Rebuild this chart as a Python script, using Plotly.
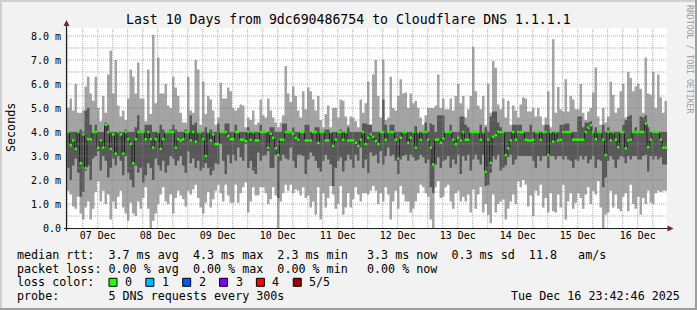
import plotly.graph_objects as go
from datetime import datetime, timedelta

# ---------------- data (values in ms, one hourly column each) ----------------
ping_max = [
    5.0, 5.4, 4.9, 6.0, 4.8, 4.8, 4.9, 5.9, 6.3, 5.6, 5.3, 6.3, 5.0, 4.45, 5.5, 4.8, 6.4, 7.4, 5.6, 7.0,
    5.1, 4.65, 4.9, 4.5, 5.4, 6.6, 6.3, 5.6, 6.9, 5.4, 5.4, 4.45, 6.6, 4.75, 8.05, 5.2, 7.1, 5.6, 5.6, 6.0,
    5.1, 5.0, 6.3, 5.85, 5.5, 4.8, 4.4, 4.4, 6.3, 4.9, 4.8, 7.0, 6.6, 4.3, 6.1, 4.75, 5.5, 5.35, 4.9, 4.3,
    4.6, 6.05, 5.4, 5.4, 5.85, 5.7, 5.0, 4.9, 5.0, 5.15, 5.1, 4.2, 4.6, 4.5, 4.9, 4.3, 4.4, 5.35, 4.7, 4.6,
    5.4, 4.9, 4.6, 4.4, 4.2, 4.4, 4.7, 6.75, 5.6, 5.25, 5.9, 5.5, 4.9, 4.6, 5.7, 4.95, 5.85, 5.7, 5.35, 4.9,
    5.5, 4.5, 4.2, 4.75, 5.1, 4.2, 5.0, 5.0, 4.6, 5.35, 5.3, 4.65, 4.3, 4.65, 4.6, 4.45, 4.2, 5.35, 4.8, 5.2,
    6.1, 4.3, 6.4, 7.0, 5.5, 4.6, 7.0, 4.5, 4.6, 6.3, 5.0, 4.9, 5.5, 6.2, 5.6, 5.65, 5.0, 5.6, 5.2, 5.3,
    5.0, 4.6, 4.3, 4.7, 5.0, 5.0, 5.0, 5.1, 6.4, 5.0, 5.4, 4.95, 4.95, 5.4, 4.9, 5.5, 6.0, 5.2, 5.5, 4.6,
    4.95, 5.5, 7.55, 5.7, 5.1, 4.95, 5.5, 4.3, 6.0, 4.8, 6.96, 6.68, 5.15, 4.95, 5.4, 4.6, 5.3, 4.3, 5.1, 4.9,
    4.6, 5.15, 5.45, 5.4, 4.85, 4.85, 5.0, 4.65, 5.0, 4.65, 4.3, 4.6, 5.7, 4.2, 7.86, 4.8, 5.87, 4.95, 4.85, 6.2,
    4.85, 5.5, 5.35, 4.95, 4.95, 6.0, 4.8, 4.5, 4.85, 5.0, 5.65, 6.7, 4.65, 4.3, 5.0, 4.4, 4.65, 6.1, 5.55, 4.8,
    5.0, 5.7, 6.0, 4.6, 6.5, 6.25, 5.7, 5.9, 6.0, 5.8, 4.8, 7.1, 5.6, 5.55, 6.5, 5.0, 6.4, 5.45, 4.8, 5.3,
]
ping_4th = [
    4.0, 4.0, 4.0, 4.0, 4.0, 4.1, 4.0, 4.9, 5.0, 4.3, 4.0, 4.3, 4.0, 4.0, 4.0, 4.4, 4.3, 4.0, 4.0, 4.0,
    4.0, 4.0, 4.0, 4.1, 4.0, 4.0, 4.0, 4.2, 4.7, 4.0, 4.0, 4.3, 4.3, 4.3, 4.0, 4.0, 4.0, 4.3, 4.1, 4.0,
    4.0, 4.1, 4.3, 4.1, 4.0, 4.0, 4.0, 4.1, 4.0, 4.7, 4.3, 4.4, 4.0, 4.0, 4.0, 4.2, 4.0, 4.1, 4.0, 4.0,
    4.35, 4.0, 4.0, 4.35, 4.35, 4.0, 4.0, 4.3, 4.0, 4.0, 4.0, 4.0, 4.2, 4.0, 4.0, 4.0, 4.0, 4.3, 4.0, 4.0,
    4.0, 4.2, 4.2, 4.0, 4.0, 4.0, 4.35, 4.35, 4.0, 4.0, 4.2, 4.0, 4.0, 4.0, 4.0, 4.3, 4.3, 4.0, 4.0, 4.2,
    4.2, 4.0, 4.0, 4.1, 4.1, 4.0, 4.0, 4.0, 4.0, 4.1, 4.0, 4.0, 4.2, 4.0, 4.0, 4.0, 4.0, 4.0, 4.35, 4.35,
    4.3, 4.3, 4.0, 4.0, 4.0, 4.0, 5.35, 4.3, 4.0, 4.3, 4.3, 4.0, 4.0, 4.0, 4.0, 4.0, 4.0, 4.0, 4.0, 4.25,
    4.0, 4.0, 4.0, 4.4, 4.0, 4.35, 4.3, 4.0, 4.7, 4.7, 4.7, 4.0, 4.0, 4.3, 4.0, 4.0, 4.0, 4.65, 4.65, 4.3,
    4.2, 4.0, 4.0, 4.0, 4.0, 4.3, 4.0, 4.2, 4.0, 4.65, 4.85, 4.85, 4.4, 4.2, 4.0, 4.0, 4.0, 4.0, 4.3, 4.3,
    4.3, 4.3, 4.0, 4.0, 4.0, 4.3, 4.0, 4.0, 4.0, 4.0, 4.0, 4.3, 4.3, 4.0, 4.0, 4.0, 4.0, 4.3, 4.3, 4.35,
    4.35, 4.0, 4.0, 4.0, 4.65, 4.65, 4.2, 4.4, 4.4, 4.45, 4.0, 4.2, 4.0, 4.0, 4.3, 4.0, 4.2, 4.0, 4.0, 4.0,
    4.0, 4.0, 4.3, 4.5, 4.65, 4.7, 4.0, 4.2, 4.0, 4.65, 4.6, 4.7, 4.2, 4.0, 4.0, 4.0, 4.0, 4.0, 4.0, 4.0,
]
ping_median = [
    4.0, 3.45, 3.65, 3.3, 4.0, 2.7, 3.9, 2.5, 3.7, 3.7, 4.0, 4.0, 3.35, 3.65, 3.35, 4.3, 4.0, 3.3, 3.9, 3.1,
    4.0, 3.9, 3.1, 4.0, 3.7, 3.5, 2.7, 3.7, 4.0, 4.0, 4.0, 3.7, 4.0, 3.7, 3.35, 3.7, 4.0, 3.3, 3.7, 4.0,
    4.0, 4.0, 4.0, 3.35, 3.7, 3.65, 3.7, 4.0, 4.0, 3.65, 4.0, 3.6, 4.0, 4.0, 3.7, 3.0, 4.0, 3.65, 3.9, 3.5,
    3.5, 4.0, 4.0, 4.0, 3.83, 3.7, 3.7, 4.0, 4.0, 3.68, 3.68, 3.62, 4.0, 3.68, 4.0, 3.65, 3.65, 4.0, 4.0, 4.0,
    3.35, 3.93, 3.76, 3.32, 3.04, 3.68, 3.68, 4.0, 4.0, 4.0, 3.93, 3.76, 3.68, 4.0, 4.0, 3.65, 3.65, 3.65, 4.0, 4.0,
    3.55, 4.0, 4.0, 3.65, 3.65, 4.0, 3.42, 3.68, 4.0, 4.0, 3.68, 4.0, 3.65, 3.65, 3.65, 3.55, 3.42, 3.68, 4.0, 3.5,
    3.76, 3.9, 3.8, 3.62, 3.5, 4.0, 4.0, 3.68, 4.0, 4.0, 4.0, 3.68, 2.9, 3.76, 4.0, 4.0, 3.55, 3.76, 4.0, 3.35,
    4.0, 3.68, 4.0, 4.0, 3.68, 3.35, 2.65, 3.68, 3.68, 3.55, 3.73, 4.0, 4.0, 4.0, 3.68, 3.5, 3.76, 3.65, 4.0, 3.68,
    3.68, 4.0, 4.0, 4.0, 4.0, 3.68, 4.0, 2.35, 3.68, 2.72, 3.8, 3.87, 4.0, 4.0, 4.0, 3.04, 3.32, 3.65, 4.0, 3.68,
    4.0, 4.0, 4.0, 3.68, 3.65, 3.65, 3.68, 4.0, 4.0, 3.68, 4.0, 4.0, 3.04, 4.0, 3.6, 4.0, 3.65, 3.68, 4.0, 4.0,
    4.0, 4.0, 3.68, 3.68, 3.68, 3.68, 3.68, 4.0, 4.18, 4.28, 4.0, 3.7, 4.0, 4.0, 3.68, 3.04, 4.0, 3.65, 4.0, 3.68,
    3.37, 4.0, 4.0, 3.32, 3.65, 3.68, 4.0, 4.0, 4.0, 4.0, 4.0, 4.35, 3.37, 3.68, 4.0, 4.0, 4.0, 3.68, 3.35, 3.35,
]
ping_2nd = [
    2.5, 2.0, 2.6, 2.9, 2.3, 1.3, 1.5, 2.4, 2.6, 2.0, 2.9, 3.0, 3.2, 2.4, 3.0, 2.8, 2.1, 2.5, 2.9, 2.6,
    3.0, 2.8, 2.2, 3.0, 2.3, 2.0, 1.7, 2.6, 2.3, 2.5, 1.9, 2.2, 2.7, 2.5, 2.0, 2.9, 2.6, 2.4, 2.8, 2.3,
    2.6, 3.0, 2.9, 2.6, 2.8, 3.0, 2.6, 2.3, 3.2, 2.7, 2.9, 2.5, 2.8, 2.4, 2.5, 2.7, 2.5, 2.2, 2.4, 2.7,
    2.65, 3.5, 2.8, 2.25, 3.05, 2.7, 3.05, 2.8, 3.35, 2.95, 2.8, 3.5, 2.5, 2.8, 2.4, 2.25, 3.15, 2.8, 3.0, 3.05,
    3.2, 2.5, 2.5, 3.05, 1.25, 2.8, 3.05, 2.9, 2.85, 3.35, 2.8, 2.5, 3.05, 3.05, 3.0, 2.25, 2.85, 3.15, 3.0, 2.8,
    2.5, 2.35, 2.8, 3.05, 2.85, 2.65, 1.75, 2.5, 2.8, 2.95, 2.35, 2.8, 3.05, 2.85, 2.5, 3.05, 2.8, 3.35, 2.5, 2.85,
    2.3, 3.15, 3.0, 3.05, 2.7, 3.2, 2.65, 3.0, 3.35, 3.0, 3.05, 2.8, 2.25, 2.85, 3.0, 3.05, 2.8, 3.05, 2.95, 2.8,
    2.85, 3.05, 2.95, 2.7, 2.85, 1.7, 1.45, 2.65, 2.95, 2.5, 2.8, 2.85, 3.0, 2.5, 2.85, 2.65, 3.05, 2.25, 3.0, 2.8,
    3.05, 2.4, 2.85, 3.05, 2.85, 2.65, 3.05, 1.75, 1.8, 2.3, 3.0, 2.85, 3.05, 2.4, 2.5, 2.6, 2.95, 3.05, 2.65, 2.85,
    3.0, 3.0, 3.0, 3.0, 3.0, 3.0, 2.8, 2.5, 3.0, 2.8, 3.0, 3.0, 2.5, 3.0, 3.0, 2.85, 3.0, 3.0, 2.85, 3.0,
    2.85, 2.8, 2.5, 2.85, 2.8, 3.0, 2.85, 3.0, 2.7, 2.85, 3.0, 2.5, 2.85, 2.8, 1.7, 2.1, 2.8, 3.0, 2.85, 2.5,
    2.85, 3.0, 2.95, 2.7, 3.0, 2.85, 3.0, 3.0, 2.85, 2.85, 3.0, 3.05, 2.35, 3.0, 2.85, 3.0, 2.85, 2.95, 2.65, 2.65,
]
ping_min = [
    1.55, 1.4, 0.9, 0.8, 1.3, 0.6, 0.35, 0.85, 1.1, 0.35, 0.8, 1.5, 1.95, 1.1, 1.55, 1.0, 1.4, 0.35, 1.1, 0.8,
    1.3, 1.55, 0.85, 0.6, 0.3, 1.05, 0.6, 0.5, 1.1, 0.8, 1.25, 1.7, 0.8, 0.0, 0.3, 0.6, 1.0, 1.4, 1.7, 1.1,
    1.0, 1.4, 0.6, 1.25, 1.55, 1.35, 1.2, 0.9, 1.55, 1.4, 1.6, 1.8, 1.25, 0.85, 0.6, 1.05, 1.5, 0.85, 1.2, 1.55,
    1.8, 1.45, 1.1, 1.8, 1.35, 1.05, 1.05, 1.8, 1.05, 1.45, 1.7, 1.9, 0.65, 1.1, 1.7, 1.35, 1.35, 1.7, 1.7, 1.45,
    1.0, 1.2, 1.7, 1.35, 0.0, 1.1, 1.45, 1.8, 1.55, 1.8, 1.45, 1.6, 1.55, 1.35, 1.7, 1.25, 1.35, 0.85, 1.1, 0.55,
    1.7, 0.35, 1.45, 0.85, 1.25, 1.75, 1.4, 0.8, 1.0, 1.75, 0.55, 0.85, 1.45, 0.85, 1.2, 1.7, 1.4, 1.1, 1.45, 1.45,
    1.4, 1.55, 1.75, 1.55, 1.0, 1.45, 1.1, 1.7, 1.4, 0.35, 1.1, 1.55, 0.8, 1.75, 1.4, 1.1, 1.1, 0.65, 0.8, 1.1,
    1.45, 1.8, 1.7, 1.45, 1.3, 0.35, 0.0, 1.7, 1.95, 1.25, 1.3, 1.7, 1.8, 1.1, 0.8, 1.45, 1.55, 1.1, 1.3, 1.1,
    1.4, 0.65, 1.6, 0.8, 1.4, 1.7, 0.65, 1.0, 0.55, 0.2, 1.4, 0.65, 1.0, 1.1, 1.2, 0.35, 0.8, 1.1, 1.4, 1.0,
    1.95, 1.7, 2.0, 1.8, 0.9, 1.35, 0.5, 1.55, 1.35, 1.8, 0.85, 1.25, 0.65, 1.45, 0.7, 0.65, 1.4, 0.85, 1.8, 0.35,
    1.1, 1.45, 0.8, 1.05, 1.45, 1.25, 0.8, 1.4, 1.7, 1.0, 1.55, 1.4, 1.95, 0.85, 0.0, 0.55, 0.65, 1.55, 0.85, 1.4,
    0.8, 0.7, 1.3, 1.45, 0.7, 1.8, 1.0, 0.8, 1.3, 0.55, 1.25, 1.0, 1.55, 1.05, 1.0, 1.45, 1.55, 1.5, 1.55, 1.55,
]

title_text = "Last 10 Days from 9dc690486754 to Cloudflare DNS 1.1.1.1"
y_tick_vals = [0, 1, 2, 3, 4, 5, 6, 7, 8]
y_tick_text = ["0.0", "1.0 m", "2.0 m", "3.0 m", "4.0 m", "5.0 m", "6.0 m", "7.0 m", "8.0 m"]
rtt_row = ["median rtt:  3.7 ms avg  4.3 ms max  2.3 ms min", "3.3 ms now  0.3 ms sd  11.8   am/s"]
loss_row = ["packet loss: 0.00 % avg  0.00 % max  0.00 % min", "0.00 % now"]
loss_labels = ["0", "1", "2", "3", "4", "5/5"]
loss_colors = ["#26ff00", "#00b8ff", "#0059ff", "#7e00ff", "#ff0000", "#a10000"]
probe_text = "probe:       5 DNS requests every 300s"
stamp_text = "Tue Dec 16 23:42:46 2025"
watermark = "RRDTOOL / TOBI OETIKER"

END = datetime(2025, 12, 16, 23, 42, 46)
START = END - timedelta(days=10)
N = len(ping_median)
edges = [START + timedelta(hours=i) for i in range(N + 1)]

# ---------------- geometry ----------------
WIDTH, HEIGHT = 697, 310
L, T, W, H = 67, 28, 600, 200
YMAX = 200 / 24.0
MONO = "DejaVu Sans Mono"


def px(xp):
    return (xp - L) / W


def py(yp):
    return (T + H - yp) / H


def closed(v):
    return list(v) + [v[-1]]


fig = go.Figure()
base = dict(mode="lines", line_shape="hv", hoverinfo="skip", showlegend=False)
fig.add_trace(go.Scatter(x=edges, y=closed(ping_min), line=dict(width=0, color="#a4a4a4"), **base))
fig.add_trace(go.Scatter(x=edges, y=closed(ping_max), line=dict(width=0, color="#a4a4a4"),
                         fill="tonexty", fillcolor="#a4a4a4", **base))
fig.add_trace(go.Scatter(x=edges, y=closed(ping_2nd), line=dict(width=0, color="#585858"), **base))
fig.add_trace(go.Scatter(x=edges, y=closed(ping_4th), line=dict(width=0, color="#585858"),
                         fill="tonexty", fillcolor="#585858", **base))
fig.add_trace(go.Scatter(x=edges, y=closed(ping_median), line=dict(width=1, color="#202020"), **base))

gx, gy = [], []
for i, m in enumerate(ping_median):
    gx += [edges[i], edges[i + 1], None]
    gy += [m, m, None]
fig.add_trace(go.Scatter(x=gx, y=gy, mode="lines", line=dict(width=2.4, color=loss_colors[0]),
                         hoverinfo="skip", showlegend=False))

shapes = []
MINOR = "rgba(143,143,143,0.75)"
MAJOR = "rgba(222,79,79,0.6)"
DASH = "1px,1px"
# vertical grid: 6-hour minor, daily major
day0 = datetime(2025, 12, 7)
for h in range(0, 10 * 24, 6):
    t = day0 + timedelta(hours=h)
    if t > END:
        break
    col = MAJOR if h % 24 == 0 else MINOR
    shapes.append(dict(type="line", xref="x", yref="paper", x0=t, x1=t, y0=0, y1=1,
                       line=dict(color=col, width=1, dash=DASH), layer="above"))
# horizontal grid
for k in range(1, 17):
    v = k * 0.5
    col = MAJOR if k % 2 == 0 else MINOR
    shapes.append(dict(type="line", xref="paper", yref="y", x0=0, x1=1, y0=v, y1=v,
                       line=dict(color=col, width=1, dash=DASH), layer="above"))

# axes with arrows
AXIS = "#1f1f1f"
ARROW = "#801f1f"
shapes.append(dict(type="line", xref="paper", yref="paper", x0=px(64), x1=px(668), y0=py(228.5), y1=py(228.5),
                   line=dict(color=AXIS, width=1.2), layer="above"))
shapes.append(dict(type="line", xref="paper", yref="paper", x0=px(66.5), x1=px(66.5), y0=py(231), y1=py(25),
                   line=dict(color=AXIS, width=1.2), layer="above"))
shapes.append(dict(type="path", xref="paper", yref="paper",
                   path=f"M {px(667.5)},{py(225.5)} L {px(673.5)},{py(228.5)} L {px(667.5)},{py(231.5)} Z",
                   fillcolor=ARROW, line=dict(width=0), layer="above"))
shapes.append(dict(type="path", xref="paper", yref="paper",
                   path=f"M {px(63.5)},{py(26)} L {px(66.5)},{py(20)} L {px(69.5)},{py(26)} Z",
                   fillcolor=ARROW, line=dict(width=0), layer="above"))

# 3d border
shapes.append(dict(type="rect", xref="paper", yref="paper", x0=px(0), x1=px(697), y0=py(0), y1=py(2),
                   fillcolor="#cfcfcf", line=dict(width=0), layer="above"))
shapes.append(dict(type="rect", xref="paper", yref="paper", x0=px(0), x1=px(2), y0=py(0), y1=py(310),
                   fillcolor="#cfcfcf", line=dict(width=0), layer="above"))
shapes.append(dict(type="rect", xref="paper", yref="paper", x0=px(0), x1=px(697), y0=py(308), y1=py(310),
                   fillcolor="#9e9e9e", line=dict(width=0), layer="above"))
shapes.append(dict(type="rect", xref="paper", yref="paper", x0=px(695), x1=px(697), y0=py(0), y1=py(310),
                   fillcolor="#9e9e9e", line=dict(width=0), layer="above"))

# loss colour boxes
for i, c in enumerate(loss_colors):
    x0 = 109 + i * 36.85
    shapes.append(dict(type="rect", xref="paper", yref="paper", x0=px(x0), x1=px(x0 + 8),
                       y0=py(278.3), y1=py(286.3), fillcolor=c, line=dict(color="#000000", width=1),
                       layer="above"))


def ann(text, xp, yp, size, xanchor="left", color="#000000", angle=0):
    return dict(text=text.replace(" ", "\u00a0"), x=px(xp), y=py(yp), xref="paper", yref="paper",
                xanchor=xanchor, yanchor="middle", showarrow=False, textangle=angle,
                font=dict(family=MONO, size=size, color=color), borderpad=0)


anns = [
    ann(title_text, 348, 19, 13.2, xanchor="center"),
    ann("Seconds", 11, 128, 11.7, xanchor="center", angle=-90),
    ann(watermark, 690, 59, 8.2, xanchor="center", color="#9c9c9c", angle=90),
    ann(rtt_row[0], 16, 255, 11.7),
    ann(rtt_row[1], 366, 255, 11.7),
    ann(loss_row[0], 16, 268.5, 11.7),
    ann(loss_row[1], 366, 268.5, 11.7),
    ann("loss color:", 16, 282.3, 11.7),
    ann(probe_text, 16, 296, 11.7),
    ann(stamp_text, 681, 296, 11.7, xanchor="right"),
]
for i, lab in enumerate(loss_labels):
    anns.append(ann(lab, 124 + i * 36.85, 282.3, 11.7))

fig.update_layout(
    width=WIDTH, height=HEIGHT, autosize=False,
    margin=dict(l=L, r=WIDTH - L - W, t=T, b=HEIGHT - T - H, pad=0),
    paper_bgcolor="#f2f2f2", plot_bgcolor="#ffffff",
    showlegend=False, shapes=shapes, annotations=anns,
    xaxis=dict(type="date", range=[START, END], showgrid=False, zeroline=False, showline=False,
               tickmode="linear", tick0=day0, dtick=86400000, ticklabelmode="period",
               tickformat="%d %b", ticks="", tickfont=dict(family=MONO, size=10, color="#000000"),
               fixedrange=True),
    yaxis=dict(range=[0, YMAX], showgrid=False, zeroline=False, showline=False,
               tickmode="array", tickvals=y_tick_vals, ticktext=y_tick_text, ticks="",
               ticklabelstandoff=5, tickfont=dict(family=MONO, size=10, color="#000000"),
               fixedrange=True),
)

fig.write_html("out.html")
